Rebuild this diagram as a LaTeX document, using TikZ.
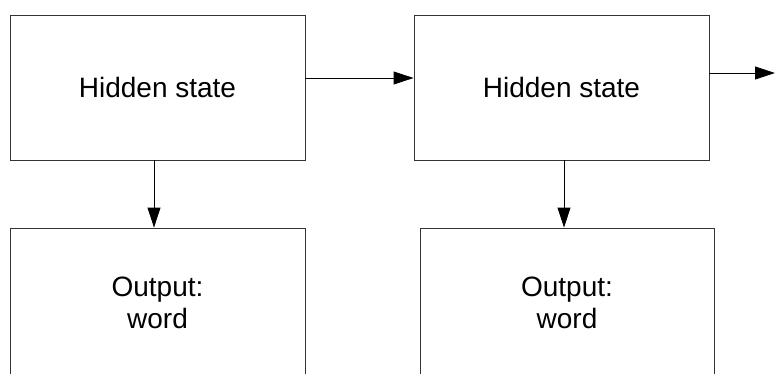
\documentclass[tikz,border=0pt]{standalone}
\usepackage{fontspec}
\setmainfont{Liberation Sans}
\usetikzlibrary{arrows.meta}
\begin{document}
\begin{tikzpicture}[x=1pt,y=-1pt,
  box/.style={draw=black!80,line width=0.9pt,minimum width=295pt,minimum height=145pt,inner sep=0pt,align=center,font=\fontsize{28}{32}\selectfont},
  conn/.style={draw=black,line width=0.9pt,-{Triangle[length=20pt,width=13pt]}}]
\useasboundingbox (0,0) rectangle (775,374);
\begin{scope}
\clip (0,0) rectangle (775,374);
\node[box] (h1) at (157.5,87.5) {Hidden state};
\node[box] (h2) at (561.5,87.5) {Hidden state};
\node[box,minimum height=149pt] (o1) at (157.5,302.5) {Output:\\word};
\node[box,minimum height=149pt,minimum width=294pt] (o2) at (567,302.5) {Output:\\word};
\coordinate (r1) at (0,78);
\coordinate (r2) at (0,73);
\coordinate (c1) at (154,0);
\coordinate (c2) at (564,0);
\coordinate (end) at (775,73);
\draw[conn] (h1.east |- r1) -- (h2.west |- r1);
\draw[conn] (h2.east |- r2) -- (end);
\draw[conn] (h1.south -| c1) -- (o1.north -| c1);
\draw[conn] (h2.south -| c2) -- (o2.north -| c2);
\end{scope}
\end{tikzpicture}
\end{document}
